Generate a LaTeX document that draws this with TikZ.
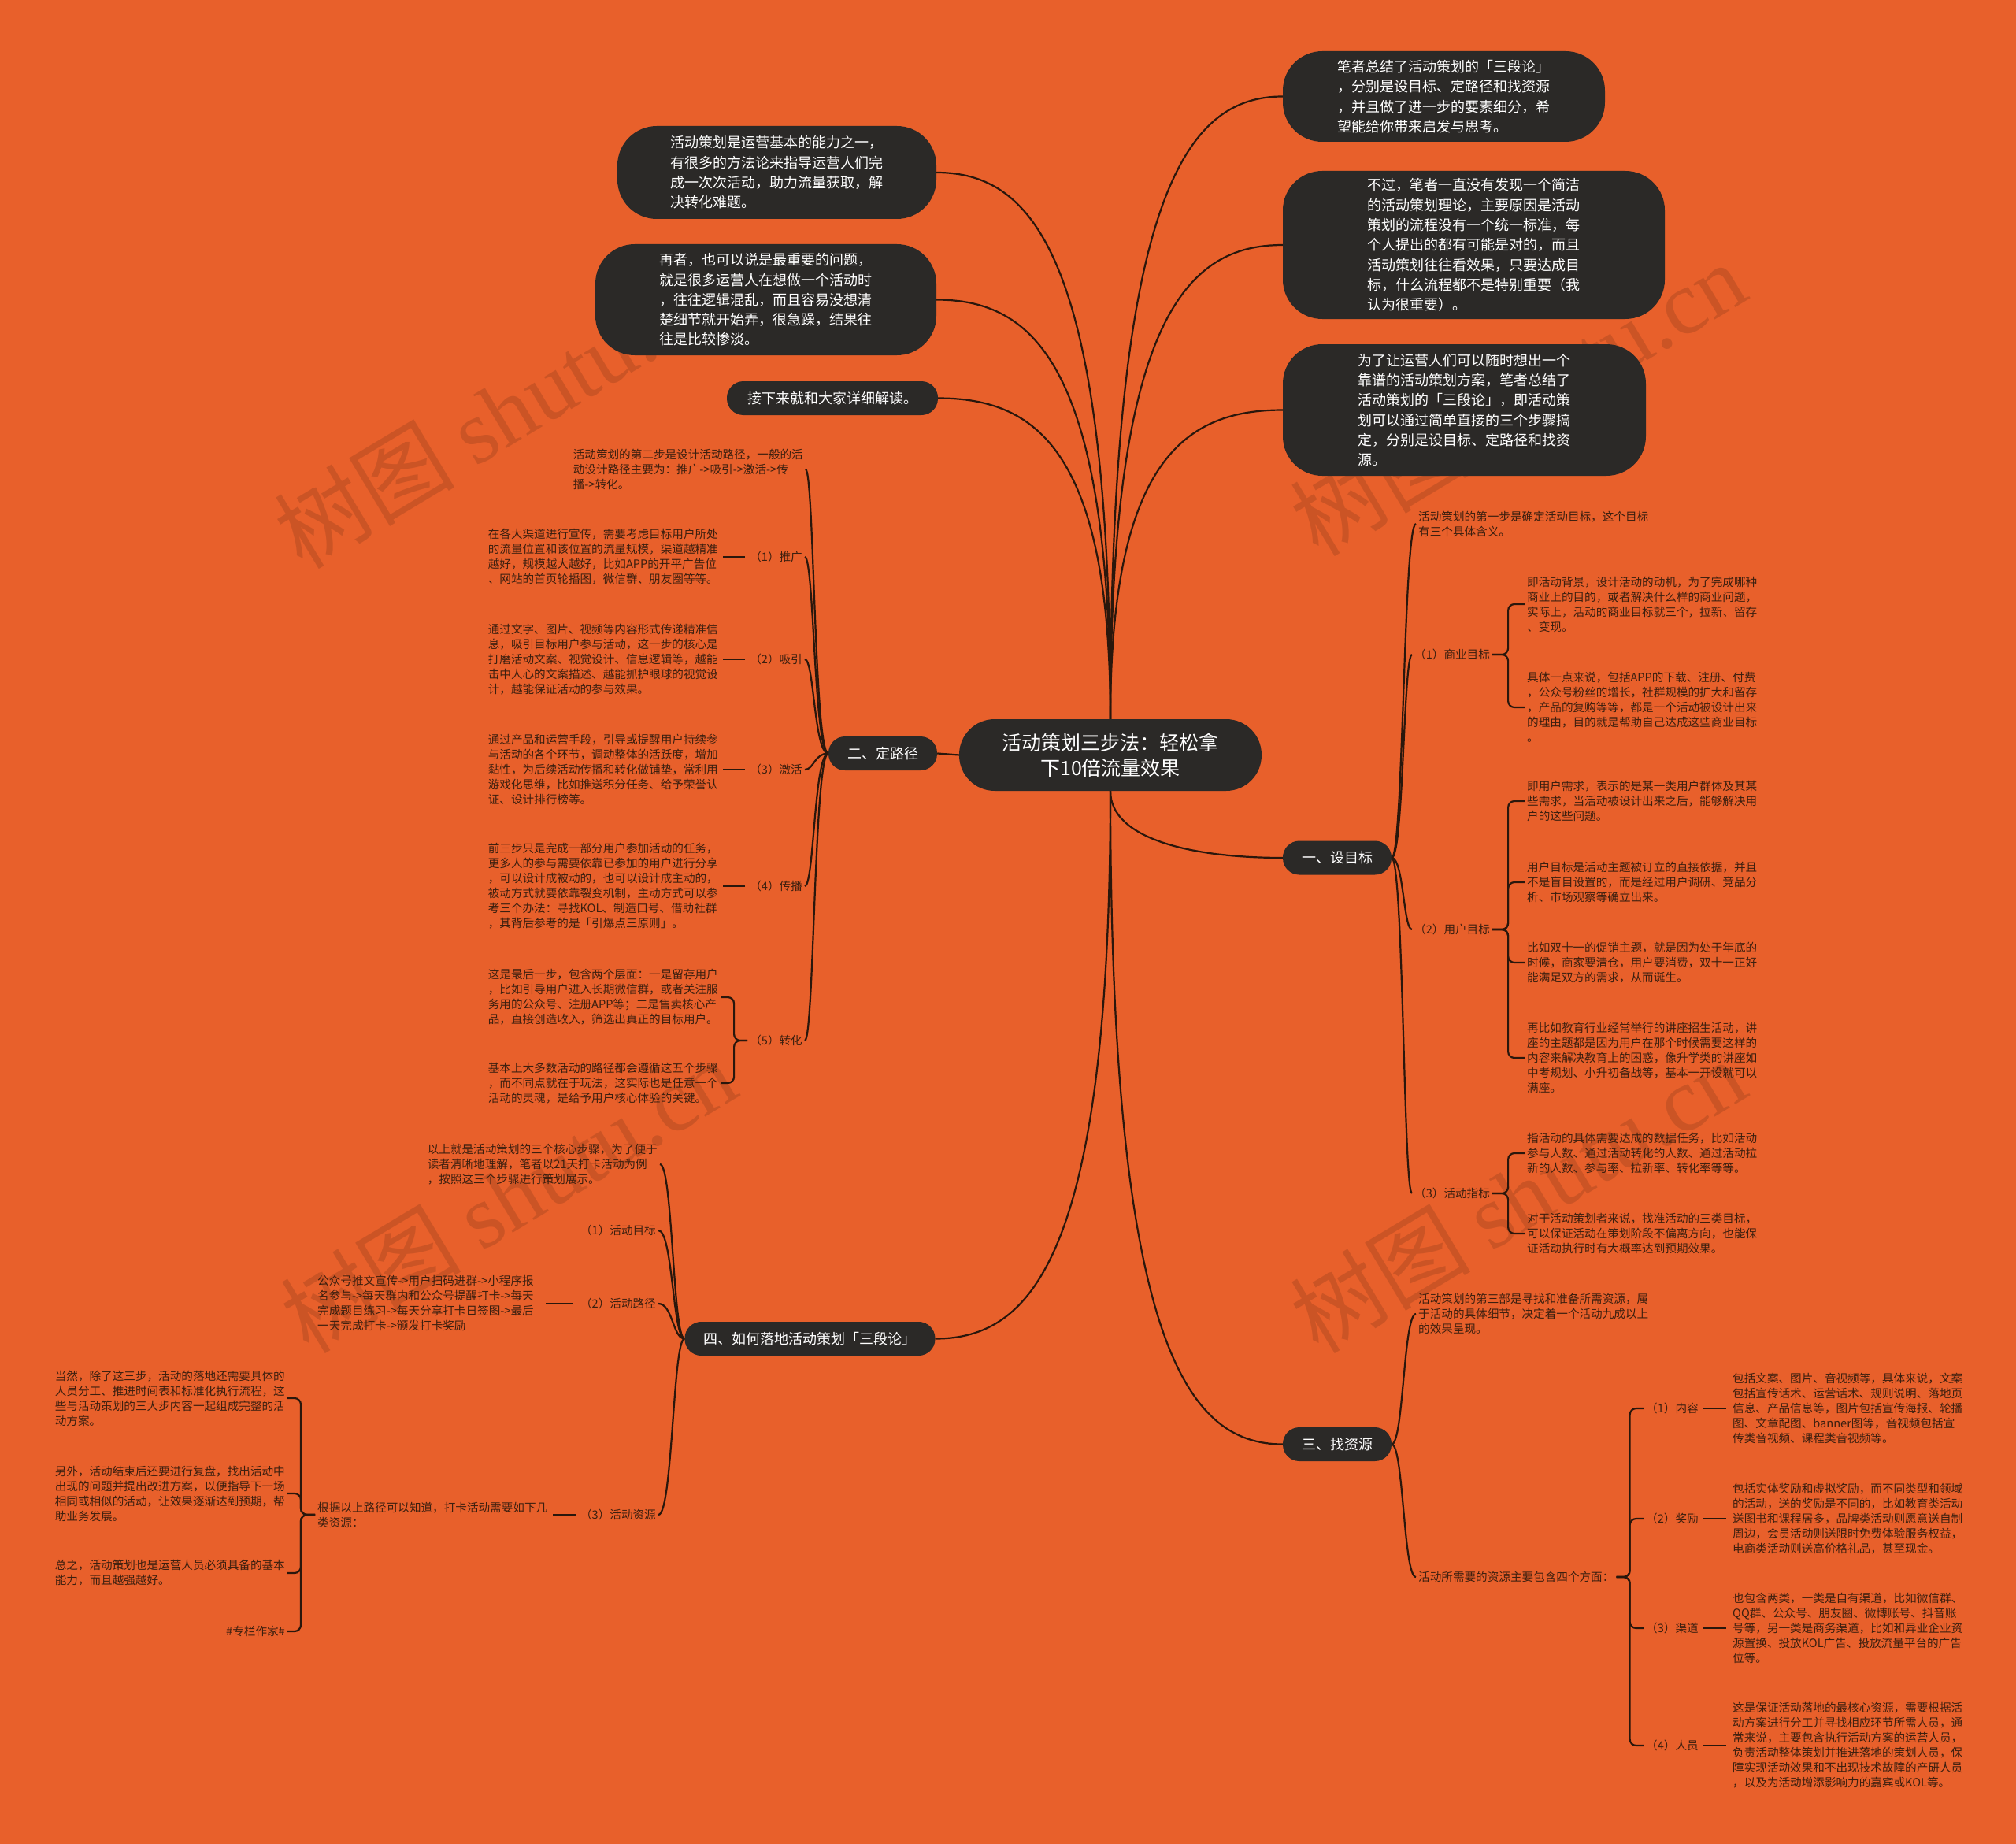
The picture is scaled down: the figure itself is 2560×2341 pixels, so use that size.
\documentclass[tikz,border=0pt]{standalone}
\usepackage{fontspec}
\setmainfont{Noto Sans CJK SC}
\newfontfamily\wmlatin{Liberation Serif}
\usetikzlibrary{calc}
\definecolor{bg}{HTML}{E8602B}
\definecolor{nodefill}{HTML}{2B2927}
\definecolor{ink}{HTML}{3C1F0F}
\definecolor{linec}{HTML}{2A170C}
\newcommand\smalltxt{\fontsize{14.6}{19}\selectfont}
\newcommand\bubtxt{\fontsize{18}{25.3}\selectfont}
\newcommand\cenfont{\fontsize{25}{32}\selectfont}
\newcommand\wmfont{\fontsize{115}{120}\selectfont}
% curve: vertical out of #1, horizontal into #2
\newcommand\curv[3]{\draw[conn] (#1) .. controls ($(#1)!#3!(#1|-#2)$) and ($(#2)!0.55!(#1|-#2)$) .. (#2);}
% bracket-like curve: horizontal out of #1, horizontal into #2, trunk offset #3
\newcommand\brc[3]{\draw[conn] (#1) .. controls ($(#1)+(#3,0)$) and ($(#2 -| #1)+(#3,0)$) .. (#2);}
\tikzset{
 conn/.style={draw=linec, line width=2.2pt},
 txt/.style={text=ink, font=\smalltxt, align=left, inner sep=3pt},
 bub/.style={fill=nodefill, text=white, font=\bubtxt, align=left, inner sep=0pt, rounded corners=50pt},
 sect/.style={fill=nodefill, text=white, font=\bubtxt, rounded corners=21pt, minimum height=43pt, inner xsep=24pt, inner ysep=0pt},
 wm/.style={text=black, text opacity=0.12, font=\wmfont, rotate=31}
}
\begin{document}
\begin{tikzpicture}[x=1pt,y=-1pt]
\useasboundingbox (0,0) rectangle (2560,2341);
\fill[bg] (0,0) rectangle (2560,2341);

% watermarks
\node[wm] (w1) at (637,522) {树图 {\wmlatin shutu.cn}};
\node[wm] (w2) at (1927,506) {树图 {\wmlatin shutu.cn}};
\node[wm] (w3) at (645,1518) {树图 {\wmlatin shutu.cn}};
\node[wm] (w4) at (1927,1518) {树图 {\wmlatin shutu.cn}};

% center
\node[fill=nodefill, text=white, font=\cenfont, align=center, rounded corners=45pt, minimum width=384pt, minimum height=91pt, inner sep=0pt] (c) at (1410,958.5) {活动策划三步法：轻松拿\\下10倍流量效果};

% top bubbles
\node[bub, minimum width=409pt, minimum height=115pt] (r1) at (1833.5,122.5) {笔者总结了活动策划的「三段论」\\，分别是设目标、定路径和找资源\\，并且做了进一步的要素细分，希\\望能给你带来启发与思考。};
\node[bub, minimum width=485pt, minimum height=188pt] (r2) at (1871.5,311) {不过，笔者一直没有发现一个简洁\\的活动策划理论，主要原因是活动\\策划的流程没有一个统一标准，每\\个人提出的都有可能是对的，而且\\活动策划往往看效果，只要达成目\\标，什么流程都不是特别重要（我\\认为很重要）。};
\node[bub, minimum width=461pt, minimum height=167pt] (r3) at (1859.5,520.5) {为了让运营人们可以随时想出一个\\靠谱的活动策划方案，笔者总结了\\活动策划的「三段论」，即活动策\\划可以通过简单直接的三个步骤搞\\定，分别是设目标、定路径和找资\\源。};
\node[bub, minimum width=405pt, minimum height=118pt] (l1) at (986.5,219) {活动策划是运营基本的能力之一，\\有很多的方法论来指导运营人们完\\成一次次活动，助力流量获取，解\\决转化难题。};
\node[bub, minimum width=433pt, minimum height=141pt] (l2) at (972.5,380.5) {再者，也可以说是最重要的问题，\\就是很多运营人在想做一个活动时\\，往往逻辑混乱，而且容易没想清\\楚细节就开始弄，很急躁，结果往\\往是比较惨淡。};
\node[bub, minimum width=268pt, minimum height=43pt, rounded corners=21pt] (l3) at (1057,505.5) {接下来就和大家详细解读。};

% section nodes
\node[sect] (s1) at (1698,1089) {一、设目标};
\node[sect] (s2) at (1121,956.5) {二、定路径};
\node[sect] (s3) at (1698,1833.5) {三、找资源};
\node[sect] (s4) at (1028.5,1699.5) {四、如何落地活动策划「三段论」};

% ---- section 1 ----
\node[txt, anchor=west] (g0) at (1798,665) {活动策划的第一步是确定活动目标，这个目标\\有三个具体含义。};
\node[txt, anchor=west] (g1) at (1793,831) {（1）商业目标};
\node[txt, anchor=west] (g1a) at (1936,767) {即活动背景，设计活动的动机，为了完成哪种\\商业上的目的，或者解决什么样的商业问题，\\实际上，活动的商业目标就三个，拉新、留存\\、变现。};
\node[txt, anchor=west] (g1b) at (1936,898) {具体一点来说，包括APP的下载、注册、付费\\，公众号粉丝的增长，社群规模的扩大和留存\\，产品的复购等等，都是一个活动被设计出来\\的理由，目的就是帮助自己达成这些商业目标\\。};
\node[txt, anchor=west] (g2) at (1793,1180) {（2）用户目标};
\node[txt, anchor=west] (g2a) at (1936,1017) {即用户需求，表示的是某一类用户群体及其某\\些需求，当活动被设计出来之后，能够解决用\\户的这些问题。};
\node[txt, anchor=west] (g2b) at (1936,1120) {用户目标是活动主题被订立的直接依据，并且\\不是盲目设置的，而是经过用户调研、竞品分\\析、市场观察等确立出来。};
\node[txt, anchor=west] (g2c) at (1936,1222) {比如双十一的促销主题，就是因为处于年底的\\时候，商家要清仓，用户要消费，双十一正好\\能满足双方的需求，从而诞生。};
\node[txt, anchor=west] (g2d) at (1936,1343) {再比如教育行业经常举行的讲座招生活动，讲\\座的主题都是因为用户在那个时候需要这样的\\内容来解决教育上的困惑，像升学类的讲座如\\中考规划、小升初备战等，基本一开设就可以\\满座。};
\node[txt, anchor=west] (g3) at (1793,1515) {（3）活动指标};
\node[txt, anchor=west] (g3a) at (1936,1464) {指活动的具体需要达成的数据任务，比如活动\\参与人数、通过活动转化的人数、通过活动拉\\新的人数、参与率、拉新率、转化率等等。};
\node[txt, anchor=west] (g3b) at (1936,1566) {对于活动策划者来说，找准活动的三类目标，\\可以保证活动在策划阶段不偏离方向，也能保\\证活动执行时有大概率达到预期效果。};

% ---- section 3 ----
\node[txt, anchor=west] (f0) at (1798,1668) {活动策划的第三部是寻找和准备所需资源，属\\于活动的具体细节，决定着一个活动九成以上\\的效果呈现。};
\node[txt, anchor=west] (f1) at (1798,2002) {活动所需要的资源主要包含四个方面：};
\node[txt, anchor=west] (f1a) at (2087,1788) {（1）内容};
\node[txt, anchor=west] (f1b) at (2087,1928) {（2）奖励};
\node[txt, anchor=west] (f1c) at (2087,2067) {（3）渠道};
\node[txt, anchor=west] (f1d) at (2087,2216) {（4）人员};
\node[txt, anchor=west] (f1at) at (2197,1788) {包括文案、图片、音视频等，具体来说，文案\\包括宣传话术、运营话术、规则说明、落地页\\信息、产品信息等，图片包括宣传海报、轮播\\图、文章配图、banner图等，音视频包括宣\\传类音视频、课程类音视频等。};
\node[txt, anchor=west] (f1bt) at (2197,1928) {包括实体奖励和虚拟奖励，而不同类型和领域\\的活动，送的奖励是不同的，比如教育类活动\\送图书和课程居多，品牌类活动则愿意送自制\\周边，会员活动则送限时免费体验服务权益，\\电商类活动则送高价格礼品，甚至现金。};
\node[txt, anchor=west] (f1ct) at (2197,2067) {也包含两类，一类是自有渠道，比如微信群、\\QQ群、公众号、朋友圈、微博账号、抖音账\\号等，另一类是商务渠道，比如和异业企业资\\源置换、投放KOL广告、投放流量平台的广告\\位等。};
\node[txt, anchor=west] (f1dt) at (2197,2216) {这是保证活动落地的最核心资源，需要根据活\\动方案进行分工并寻找相应环节所需人员，通\\常来说，主要包含执行活动方案的运营人员，\\负责活动整体策划并推进落地的策划人员，保\\障实现活动效果和不出现技术故障的产研人员\\，以及为活动增添影响力的嘉宾或KOL等。};

% ---- section 2 ----
\node[txt, anchor=east] (e0) at (1023,596) {活动策划的第二步是设计活动路径，一般的活\\动设计路径主要为：推广->吸引->激活->传\\播->转化。};
\node[txt, anchor=east] (e1) at (1022,707) {（1）推广};
\node[txt, anchor=east] (e2) at (1022,837) {（2）吸引};
\node[txt, anchor=east] (e3) at (1022,977) {（3）激活};
\node[txt, anchor=east] (e4) at (1022,1125) {（4）传播};
\node[txt, anchor=east] (e5) at (1022,1321) {（5）转化};
\node[txt, anchor=east] (e1t) at (915,707) {在各大渠道进行宣传，需要考虑目标用户所处\\的流量位置和该位置的流量规模，渠道越精准\\越好，规模越大越好，比如APP的开平广告位\\、网站的首页轮播图，微信群、朋友圈等等。};
\node[txt, anchor=east] (e2t) at (915,837) {通过文字、图片、视频等内容形式传递精准信\\息，吸引目标用户参与活动，这一步的核心是\\打磨活动文案、视觉设计、信息逻辑等，越能\\击中人心的文案描述、越能抓护眼球的视觉设\\计，越能保证活动的参与效果。};
\node[txt, anchor=east] (e3t) at (915,977) {通过产品和运营手段，引导或提醒用户持续参\\与活动的各个环节，调动整体的活跃度，增加\\黏性，为后续活动传播和转化做铺垫，常利用\\游戏化思维，比如推送积分任务、给予荣誉认\\证、设计排行榜等。};
\node[txt, anchor=east] (e4t) at (915,1125) {前三步只是完成一部分用户参加活动的任务，\\更多人的参与需要依靠已参加的用户进行分享\\，可以设计成被动的，也可以设计成主动的，\\被动方式就要依靠裂变机制，主动方式可以参\\考三个办法：寻找KOL、制造口号、借助社群\\，其背后参考的是「引爆点三原则」。};
\node[txt, anchor=east] (e5a) at (915,1266) {这是最后一步，包含两个层面：一是留存用户\\，比如引导用户进入长期微信群，或者关注服\\务用的公众号、注册APP等；二是售卖核心产\\品，直接创造收入，筛选出真正的目标用户。};
\node[txt, anchor=east] (e5b) at (915,1375) {基本上大多数活动的路径都会遵循这五个步骤\\，而不同点就在于玩法，这实际也是任意一个\\活动的灵魂，是给予用户核心体验的关键。};

% ---- section 4 ----
\node[txt, anchor=east] (h0) at (838,1478) {以上就是活动策划的三个核心步骤，为了便于\\读者清晰地理解，笔者以21天打卡活动为例\\，按照这三个步骤进行策划展示。};
\node[txt, anchor=east] (h1) at (836,1562) {（1）活动目标};
\node[txt, anchor=east] (h2) at (836,1655) {（2）活动路径};
\node[txt, anchor=east] (h3) at (836,1923) {（3）活动资源};
\node[txt, anchor=west] (h2t) at (400,1654) {公众号推文宣传->用户扫码进群->小程序报\\名参与->每天群内和公众号提醒打卡->每天\\完成题目练习->每天分享打卡日签图->最后\\一天完成打卡->颁发打卡奖励};
\node[txt, anchor=west] (h3t) at (400,1923) {根据以上路径可以知道，打卡活动需要如下几\\类资源：};
\node[txt, anchor=east] (h3a) at (365,1775) {当然，除了这三步，活动的落地还需要具体的\\人员分工、推进时间表和标准化执行流程，这\\些与活动策划的三大步内容一起组成完整的活\\动方案。};
\node[txt, anchor=east] (h3b) at (365,1896) {另外，活动结束后还要进行复盘，找出活动中\\出现的问题并提出改进方案，以便指导下一场\\相同或相似的活动，让效果逐渐达到预期，帮\\助业务发展。};
\node[txt, anchor=east] (h3c) at (365,1997) {总之，活动策划也是运营人员必须具备的基本\\能力，而且越强越好。};
\node[txt, anchor=east] (h3d) at (365,2071) {\#专栏作家\#};

% ---- connectors: center ----
\curv{c.north}{l1.east}{0.85}
\curv{c.north}{l2.east}{0.85}
\curv{c.north}{l3.east}{0.85}
\curv{c.north}{r1.west}{0.85}
\curv{c.north}{r2.west}{0.85}
\curv{c.north}{r3.west}{0.85}
\curv{c.south}{s1.west}{0.7}
\curv{c.south}{s3.west}{0.85}
\curv{c.south}{s4.east}{0.85}
\draw[conn] (c.west) -- (s2.east);

% section 1
\brc{s1.east}{g0.west}{15}
\brc{s1.east}{g1.west}{15}
\brc{s1.east}{g2.west}{15}
\brc{s1.east}{g3.west}{15}
\foreach \p/\q in {g1/g1a,g1/g1b,g2/g2a,g2/g2b,g2/g2c,g2/g2d,g3/g3a,g3/g3b}
  \draw[conn, rounded corners=8pt] (\p.east) -- ++(20,0) |- (\q.west);

% section 3
\brc{s3.east}{f0.west}{15}
\brc{s3.east}{f1.west}{15}
\foreach \q in {f1a,f1b,f1c,f1d}
  \draw[conn, rounded corners=8pt] (f1.east) -- ++(17,0) |- (\q.west);
\foreach \p in {f1a,f1b,f1c,f1d}
  \draw[conn, shorten <=3pt, shorten >=5pt] (\p.east) -- (\p t.west);

% section 2
\brc{s2.west}{e0.east}{-18}
\foreach \q in {e1,e2,e3,e4,e5}
  {\brc{s2.west}{\q.east}{-18}}
\foreach \p in {e1,e2,e3,e4}
  \draw[conn, shorten <=3pt, shorten >=3pt] (\p.west) -- (\p t.east);
\foreach \q in {e5a,e5b}
  \draw[conn, rounded corners=8pt] (e5.west) -- ++(-17,0) |- (\q.east);

% section 4
\foreach \q in {h0,h1,h2,h3}
  {\brc{s4.west}{\q.east}{-15}}
\draw[conn, shorten <=6pt, shorten >=12pt] (h2.west) -- (h2t.east |- h2.west);
\draw[conn, shorten <=3pt, shorten >=4pt] (h3.west) -- (h3t.east |- h3.west);
\foreach \q in {h3a,h3b,h3c,h3d}
  \draw[conn, rounded corners=8pt] (h3t.west) -- ++(-18,0) |- (\q.east);
\end{tikzpicture}
\end{document}
